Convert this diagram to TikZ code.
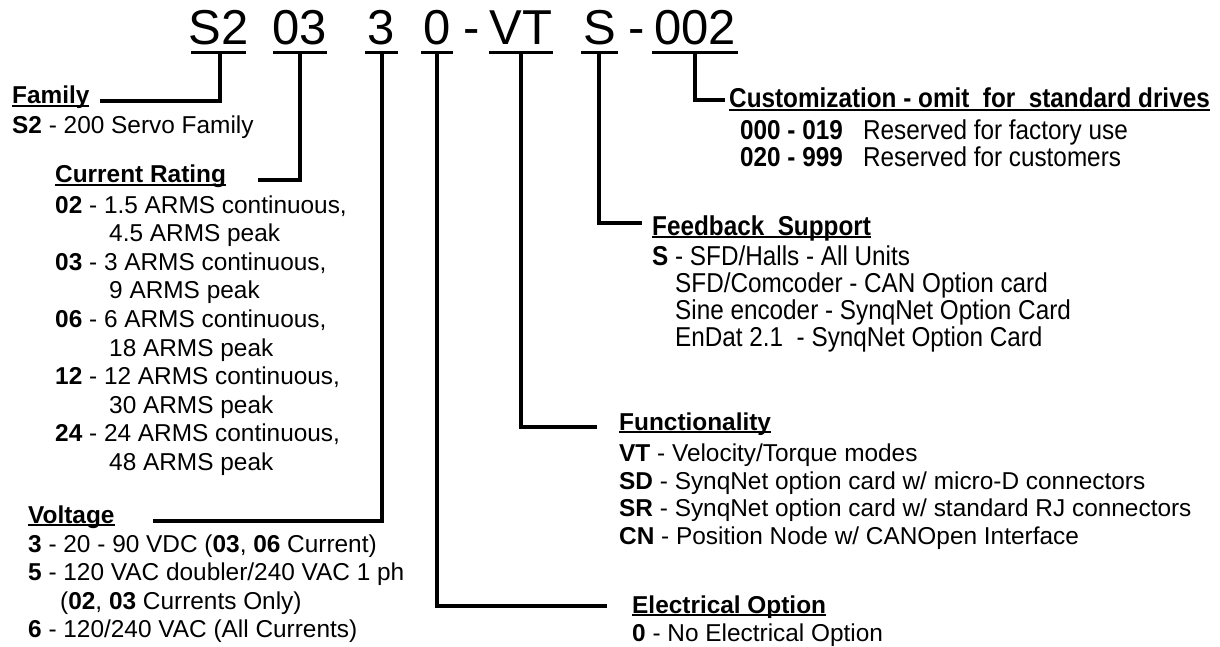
\documentclass[tikz,border=0pt]{standalone}
\usepackage{fontspec}
\setmainfont{Liberation Sans}
\newfontfamily\narrowfont[FakeStretch=0.89]{Liberation Sans}
\newcommand\ulin[1]{\setbox0\hbox{#1}\rlap{\rule[-0.12em]{\wd0}{0.075em}}\box0}
\begin{document}
\begin{tikzpicture}[x=1pt,y=-1pt,
  big/.style={font=\fontsize{49}{49}\selectfont, anchor=base, inner sep=0pt},
  txt/.style={font=\fontsize{24.4}{28}\selectfont, anchor=base west, inner sep=0pt},
  ntxt/.style={font=\narrowfont\fontsize{27.3}{30}\selectfont, anchor=base west, inner sep=0pt},
  conn/.style={line width=4pt, line join=miter},
  uline/.style={line width=3.3pt}]
\useasboundingbox (0,0) rectangle (1220,647);
% ---- part number ----
\node[big] (cS2) at (218.5,45) {S2};
\node[big] (c03) at (300,45) {03};
\node[big] (c3) at (381.5,45) {3};
\node[big] (c0) at (437,45) {0};
\node[big] (cd1) at (471.5,45) {-};
\node[big] (cVT) at (521,45) {VT};
\node[big] (cS) at (599.5,45) {S};
\node[big] (cd2) at (636.5,45) {-};
\node[big] (c002) at (695,45) {002};
% underlines
\coordinate (uS2a) at (191,52.5); \coordinate (uS2b) at (246,52.5);
\coordinate (u03a) at (273,52.5); \coordinate (u03b) at (327,52.5);
\coordinate (u3a) at (365,52.5); \coordinate (u3b) at (398,52.5);
\coordinate (u0a) at (421,52.5); \coordinate (u0b) at (453,52.5);
\coordinate (uVTa) at (489,52.5); \coordinate (uVTb) at (553,52.5);
\coordinate (uSa) at (581,52.5); \coordinate (uSb) at (618,52.5);
\coordinate (u002a) at (652,52.5); \coordinate (u002b) at (738,52.5);
\foreach \n in {S2,03,3,0,VT,S,002} \draw[uline] (u\n a) -- (u\n b);
% connector start points
\coordinate (tS2) at (220,52.5);
\coordinate (t03) at (300,52.5);
\coordinate (t3) at (382,52.5);
\coordinate (t0) at (437,52.5);
\coordinate (tVT) at (521,52.5);
\coordinate (tS) at (599,52.5);
\coordinate (t002) at (695,52.5);
% connector end points
\coordinate (eFam) at (100,101.5);
\coordinate (eCur) at (258,180);
\coordinate (eVol) at (153,521);
\coordinate (eEle) at (607,606);
\coordinate (eFun) at (597,427);
\coordinate (eFee) at (642,223);
\coordinate (eCus) at (725,100);
\draw[conn] (tS2) |- (eFam);
\draw[conn] (t03) |- (eCur);
\draw[conn] (t3) |- (eVol);
\draw[conn] (t0) |- (eEle);
\draw[conn] (tVT) |- (eFun);
\draw[conn] (tS) |- (eFee);
\draw[conn] (t002) |- (eCus);
% ---- Family ----
\node[txt] (famH) at (12,104) {\bfseries\ulin{Family}};
\node[txt] (fam1) at (12,134) {\textbf{S2} - 200 Servo Family};
% ---- Current Rating ----
\node[txt] (curH) at (55,183) {\bfseries\ulin{Current Rating}};
\node[txt] (cur1) at (55,213) {\textbf{02} - 1.5 ARMS continuous,};
\node[txt] (cur2) at (109,241.6) {4.5 ARMS peak};
\node[txt] (cur3) at (55,270.2) {\textbf{03} - 3 ARMS continuous,};
\node[txt] (cur4) at (109,298.8) {9 ARMS peak};
\node[txt] (cur5) at (55,327.4) {\textbf{06} - 6 ARMS continuous,};
\node[txt] (cur6) at (109,356) {18 ARMS peak};
\node[txt] (cur7) at (55,384.6) {\textbf{12} - 12 ARMS continuous,};
\node[txt] (cur8) at (109,413.2) {30 ARMS peak};
\node[txt] (cur9) at (55,441.8) {\textbf{24} - 24 ARMS continuous,};
\node[txt] (cur10) at (109,470.4) {48 ARMS peak};
% ---- Voltage ----
\node[txt] (volH) at (28,523) {\bfseries\ulin{Voltage}};
\node[txt] (vol1) at (28,552) {\textbf{3} - 20 - 90 VDC (\textbf{03}, \textbf{06} Current)};
\node[txt] (vol2) at (28,580.5) {\textbf{5} - 120 VAC doubler/240 VAC 1 ph};
\node[txt] (vol3) at (60,609) {(\textbf{02}, \textbf{03} Currents Only)};
\node[txt] (vol4) at (28,637.5) {\textbf{6} - 120/240 VAC (All Currents)};
% ---- Functionality ----
\node[txt] (funH) at (619,430) {\bfseries\ulin{Functionality}};
\node[txt] (fun1) at (619,461.5) {\textbf{VT} - Velocity/Torque modes};
\node[txt] (fun2) at (619,489) {\textbf{SD} - SynqNet option card w/ micro-D connectors};
\node[txt] (fun3) at (619,516.5) {\textbf{SR} - SynqNet option card w/ standard RJ connectors};
\node[txt] (fun4) at (619,544) {\textbf{CN} - Position Node w/ CANOpen Interface};
% ---- Electrical Option ----
\node[txt] (eleH) at (632,613) {\bfseries\ulin{Electrical Option}};
\node[txt] (ele1) at (632,641.5) {\textbf{0} - No Electrical Option};
% ---- Customization ----
\node[ntxt] (cusH) at (729,108) {\bfseries\ulin{Customization - omit\ \ for\ \ standard drives}};
\node[ntxt] (cus1) at (740,140) {\textbf{000 - 019}\ \ \ Reserved for factory use};
\node[ntxt] (cus2) at (740,167) {\textbf{020 - 999}\ \ \ Reserved for customers};
% ---- Feedback Support ----
\node[ntxt] (feeH) at (652,235) {\bfseries\ulin{Feedback\ \ Support}};
\node[ntxt] (fee1) at (652,265) {\textbf{S} - SFD/Halls - All Units};
\node[ntxt] (fee2) at (675,292) {SFD/Comcoder - CAN Option card};
\node[ntxt] (fee3) at (675,319) {Sine encoder - SynqNet Option Card};
\node[ntxt] (fee4) at (675,346) {EnDat 2.1\ \ - SynqNet Option Card};
\end{tikzpicture}
\end{document}
